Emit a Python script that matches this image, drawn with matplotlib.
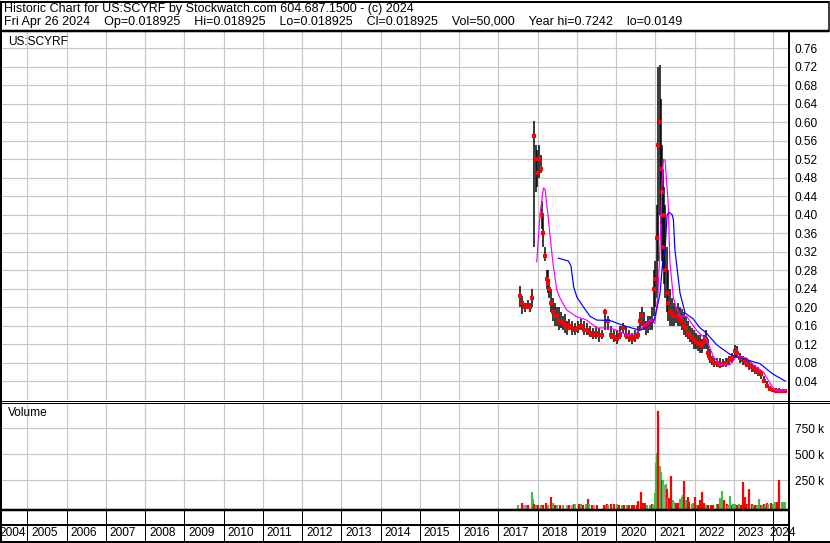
import matplotlib
matplotlib.use("Agg")
import matplotlib.pyplot as plt
from matplotlib.lines import Line2D

plt.rcParams['font.family'] = ['Liberation Sans', 'DejaVu Sans']

# ---------------- data ----------------
title_line1 = "Historic Chart for US:SCYRF by Stockwatch.com 604.687.1500 - (c) 2024"
title_line2 = ("Fri Apr 26 2024    Op=0.018925    Hi=0.018925    Lo=0.018925    "
               "Cl=0.018925    Vol=50,000    Year hi=0.7242    lo=0.0149")
symbol = "US:SCYRF"

year_labels = list(range(2004, 2025))
price_ticks = [0.04, 0.08, 0.12, 0.16, 0.20, 0.24, 0.28, 0.32, 0.36, 0.40,
               0.44, 0.48, 0.52, 0.56, 0.60, 0.64, 0.68, 0.72, 0.76]
volume_ticks = [250000, 500000, 750000]
volume_tick_labels = ["250 k", "500 k", "750 k"]

bar_dates = [2017.55, 2017.60, 2017.68, 2017.76, 2017.81, 2017.87,
             2017.91, 2017.95, 2017.99, 2018.04, 2018.08, 2018.11, 2018.15, 2018.19,
             2018.23, 2018.27, 2018.30, 2018.34, 2018.39, 2018.44, 2018.49, 2018.54,
             2018.59, 2018.65, 2018.70, 2018.75, 2018.80, 2018.88, 2018.95, 2019.03,
             2019.11, 2019.18, 2019.26, 2019.34, 2019.41, 2019.49, 2019.56, 2019.64,
             2019.72, 2019.79, 2019.87, 2019.95, 2020.02, 2020.10, 2020.18, 2020.25,
             2020.33, 2020.41, 2020.48, 2020.56, 2020.61, 2020.66, 2020.71, 2020.76,
             2020.81, 2020.86, 2020.91, 2020.97, 2021.00, 2021.04, 2021.08, 2021.12,
             2021.14, 2021.17, 2021.20, 2021.22, 2021.25, 2021.29, 2021.32, 2021.37,
             2021.42, 2021.47, 2021.53, 2021.58, 2021.63, 2021.68, 2021.73, 2021.78,
             2021.83, 2021.88, 2021.93, 2021.99, 2022.04, 2022.09, 2022.14, 2022.19,
             2022.24, 2022.29, 2022.34, 2022.39, 2022.44, 2022.49, 2022.57, 2022.65,
             2022.72, 2022.80, 2022.87, 2022.95, 2023.03, 2023.08, 2023.16, 2023.23,
             2023.31, 2023.39, 2023.46, 2023.54, 2023.61, 2023.69, 2023.77, 2023.84,
             2023.92, 2024.00, 2024.07, 2024.15, 2024.23, 2024.31]
bar_high = [0.245, 0.225, 0.21, 0.215, 0.21, 0.24,
            0.603, 0.55, 0.54, 0.55, 0.53, 0.43, 0.40, 0.33,
            0.28, 0.28, 0.26, 0.24, 0.22, 0.21, 0.20, 0.20,
            0.19, 0.18, 0.185, 0.17, 0.175, 0.17, 0.165, 0.17,
            0.175, 0.17, 0.165, 0.16, 0.155, 0.16, 0.155, 0.15,
            0.195, 0.18, 0.16, 0.15, 0.15, 0.16, 0.166, 0.16,
            0.15, 0.145, 0.15, 0.16, 0.19, 0.20, 0.19, 0.17,
            0.18, 0.18, 0.20, 0.28, 0.30, 0.42, 0.72, 0.724,
            0.65, 0.55, 0.50, 0.46, 0.42, 0.33, 0.28, 0.24,
            0.22, 0.21, 0.20, 0.21, 0.20, 0.195, 0.19, 0.18,
            0.17, 0.16, 0.155, 0.15, 0.145, 0.14, 0.14, 0.13,
            0.14, 0.15, 0.13, 0.11, 0.095, 0.09, 0.09, 0.09,
            0.088, 0.09, 0.095, 0.10, 0.118, 0.115, 0.10, 0.095,
            0.09, 0.085, 0.08, 0.075, 0.07, 0.065, 0.05, 0.04,
            0.03, 0.026, 0.024, 0.024, 0.022, 0.021]
bar_low = [0.20, 0.185, 0.19, 0.195, 0.19, 0.20,
           0.33, 0.45, 0.46, 0.48, 0.49, 0.37, 0.33, 0.30,
           0.24, 0.23, 0.22, 0.19, 0.17, 0.16, 0.16, 0.15,
           0.155, 0.15, 0.145, 0.14, 0.15, 0.14, 0.14, 0.145,
           0.15, 0.14, 0.14, 0.135, 0.13, 0.13, 0.125, 0.13,
           0.15, 0.15, 0.13, 0.125, 0.12, 0.13, 0.145, 0.13,
           0.125, 0.12, 0.125, 0.13, 0.15, 0.16, 0.15, 0.14,
           0.145, 0.15, 0.15, 0.18, 0.20, 0.22, 0.30, 0.40,
           0.38, 0.30, 0.28, 0.25, 0.22, 0.19, 0.17, 0.16,
           0.16, 0.16, 0.165, 0.16, 0.16, 0.15, 0.14, 0.135,
           0.13, 0.125, 0.12, 0.11, 0.11, 0.105, 0.10, 0.10,
           0.11, 0.11, 0.09, 0.08, 0.075, 0.07, 0.07, 0.068,
           0.07, 0.07, 0.075, 0.08, 0.09, 0.09, 0.08, 0.075,
           0.07, 0.065, 0.06, 0.055, 0.05, 0.045, 0.035, 0.025,
           0.018, 0.016, 0.016, 0.016, 0.016, 0.017]
bar_close = [0.225, 0.21, 0.20, 0.205, 0.20, 0.22,
             0.57, 0.52, 0.49, 0.52, 0.50, 0.40, 0.36, 0.31,
             0.26, 0.25, 0.24, 0.21, 0.19, 0.18, 0.18, 0.17,
             0.17, 0.165, 0.16, 0.155, 0.16, 0.155, 0.15, 0.155,
             0.16, 0.15, 0.15, 0.145, 0.14, 0.145, 0.14, 0.14,
             0.19, 0.17, 0.14, 0.135, 0.13, 0.14, 0.155, 0.14,
             0.135, 0.13, 0.135, 0.14, 0.17, 0.18, 0.16, 0.155,
             0.16, 0.165, 0.17, 0.24, 0.26, 0.35, 0.55, 0.60,
             0.50, 0.45, 0.40, 0.33, 0.28, 0.23, 0.21, 0.19,
             0.185, 0.18, 0.18, 0.18, 0.175, 0.17, 0.16, 0.155,
             0.145, 0.14, 0.135, 0.13, 0.125, 0.12, 0.12, 0.115,
             0.125, 0.13, 0.10, 0.09, 0.085, 0.08, 0.08, 0.075,
             0.078, 0.08, 0.085, 0.09, 0.105, 0.10, 0.09, 0.085,
             0.08, 0.075, 0.07, 0.065, 0.06, 0.055, 0.04, 0.03,
             0.022, 0.02, 0.019, 0.019, 0.019, 0.019]

ma_short_dates = [2017.98, 2018.06, 2018.15, 2018.19, 2018.27, 2018.36, 2018.40,
                  2018.49, 2018.57, 2018.74, 2019.00, 2019.25, 2019.51, 2019.85,
                  2020.10, 2020.27, 2020.53, 2020.69, 2020.86, 2020.99, 2021.07,
                  2021.12, 2021.17, 2021.21, 2021.25, 2021.29, 2021.33, 2021.37,
                  2021.46, 2021.53, 2021.63, 2021.80, 2022.05, 2022.31, 2022.48,
                  2022.65, 2022.90, 2023.07, 2023.33, 2023.50, 2023.75, 2023.92,
                  2024.05, 2024.33]
ma_short_vals = [0.298, 0.40, 0.458, 0.455, 0.396, 0.32, 0.29,
                 0.237, 0.22, 0.194, 0.179, 0.172, 0.155, 0.155,
                 0.147, 0.14, 0.144, 0.158, 0.172, 0.165, 0.23,
                 0.33, 0.47, 0.52, 0.518, 0.468, 0.425, 0.30,
                 0.22, 0.20, 0.18, 0.18, 0.15, 0.129, 0.093,
                 0.075, 0.075, 0.093, 0.09, 0.075, 0.06, 0.036,
                 0.02, 0.02]

ma_long_dates = [2018.53, 2018.78, 2018.85, 2018.92, 2019.00, 2019.17, 2019.34,
                 2019.51, 2019.85, 2020.10, 2020.27, 2020.61, 2020.82, 2020.97,
                 2021.05, 2021.12, 2021.19, 2021.25, 2021.30, 2021.35, 2021.43,
                 2021.46, 2021.50, 2021.63, 2021.76, 2021.96, 2022.14, 2022.29,
                 2022.57, 2022.90, 2023.24, 2023.66, 2024.00, 2024.31]
ma_long_vals = [0.306, 0.30, 0.29, 0.244, 0.222, 0.20, 0.18,
                0.172, 0.171, 0.163, 0.158, 0.15, 0.158, 0.172,
                0.20, 0.23, 0.30, 0.324, 0.40, 0.405, 0.40,
                0.39, 0.324, 0.23, 0.187, 0.175, 0.155, 0.145,
                0.118, 0.098, 0.088, 0.078, 0.055, 0.04]

vol_dates = [2017.51, 2017.60, 2017.65, 2017.71, 2017.76, 2017.85, 2017.89, 2017.92,
             2017.96, 2018.02, 2018.08, 2018.15, 2018.21, 2018.27, 2018.33, 2018.39,
             2018.44, 2018.50, 2018.57, 2018.66, 2018.74, 2018.81, 2018.87, 2018.93,
             2018.96, 2019.06, 2019.10, 2019.17, 2019.23, 2019.28, 2019.32, 2019.38,
             2019.45, 2019.51, 2019.69, 2019.74, 2019.78, 2019.80, 2019.86, 2019.95,
             2020.02, 2020.08, 2020.14, 2020.20, 2020.27, 2020.34, 2020.40, 2020.47,
             2020.53, 2020.56, 2020.64, 2020.68, 2020.73, 2020.78, 2020.86, 2020.91,
             2020.95, 2020.99, 2021.02, 2021.04, 2021.08, 2021.11, 2021.14, 2021.16,
             2021.19, 2021.22, 2021.27, 2021.29, 2021.33, 2021.36, 2021.40, 2021.44,
             2021.48, 2021.53, 2021.59, 2021.63, 2021.67, 2021.70, 2021.74, 2021.77,
             2021.83, 2021.87, 2021.93, 2021.97, 2022.01, 2022.05, 2022.10, 2022.14,
             2022.18, 2022.24, 2022.29, 2022.35, 2022.41, 2022.48, 2022.56, 2022.61,
             2022.65, 2022.71, 2022.76, 2022.82, 2022.86, 2022.90, 2022.95, 2022.99,
             2023.03, 2023.09, 2023.14, 2023.18, 2023.23, 2023.29, 2023.33, 2023.36,
             2023.39, 2023.46, 2023.50, 2023.54, 2023.58, 2023.65, 2023.69, 2023.72,
             2023.77, 2023.80, 2023.84, 2023.88, 2023.94, 2023.99, 2024.05, 2024.11,
             2024.16, 2024.22, 2024.26, 2024.31]
vol_values = [10000, 29000, 12000, 12000, 16000, 135000, 70000, 20000,
              15000, 12000, 10000, 12000, 30000, 12000, 87000, 30000,
              10000, 12000, 10000, 12000, 12000, 12000, 12000, 22000,
              25000, 18000, 25000, 12000, 18000, 70000, 18000, 10000,
              12000, 10000, 12000, 10000, 18000, 10000, 18000, 22000,
              25000, 8000, 12000, 8000, 16000, 8000, 10000, 12000,
              14000, 54000, 138000, 30000, 32000, 12000, 12000, 18000,
              10000, 125000, 420000, 510000, 917000, 388000, 330000, 253000,
              250000, 205000, 215000, 165000, 77000, 75000, 291000, 60000,
              40000, 30000, 35000, 72000, 93000, 110000, 243000, 60000,
              85000, 45000, 20000, 30000, 93000, 12000, 15000, 57000,
              135000, 30000, 15000, 12000, 15000, 12000, 25000, 20000,
              75000, 147000, 65000, 20000, 15000, 103000, 15000, 25000,
              20000, 15000, 18000, 15000, 237000, 88000, 25000, 15000,
              166000, 18000, 12000, 15000, 10000, 72000, 15000, 12000,
              20000, 12000, 30000, 18000, 35000, 20000, 40000, 45000,
              253000, 45000, 45000, 45000]
vol_dir = ['g', 'r', 'n', 'n', 'r', 'g', 'g', 'r',
           'g', 'r', 'g', 'r', 'r', 'g', 'r', 'g',
           'r', 'g', 'r', 'g', 'n', 'r', 'n', 'r',
           'g', 'r', 'g', 'r', 'g', 'r', 'g', 'r',
           'n', 'r', 'r', 'g', 'r', 'g', 'r', 'r',
           'g', 'r', 'g', 'r', 'g', 'r', 'r', 'r',
           'r', 'r', 'r', 'r', 'r', 'g', 'g', 'r',
           'g', 'g', 'g', 'g', 'r', 'g', 'g', 'r',
           'g', 'n', 'g', 'r', 'g', 'r', 'r', 'g',
           'n', 'r', 'r', 'g', 'g', 'g', 'r', 'g',
           'r', 'r', 'g', 'g', 'r', 'g', 'r', 'r',
           'r', 'r', 'g', 'r', 'r', 'r', 'g', 'r',
           'g', 'g', 'r', 'r', 'g', 'g', 'r', 'g',
           'g', 'r', 'g', 'r', 'r', 'r', 'r', 'g',
           'r', 'r', 'g', 'r', 'g', 'g', 'r', 'g',
           'r', 'g', 'r', 'g', 'r', 'g', 'g', 'r',
           'r', 'g', 'g', 'g']

# ---------------- styling ----------------
W, H = 830, 543
FONT = 8.6
GRID = '#c8c8c8'
COLORS = {'g': '#4cb84c', 'r': '#ff0000', 'n': '#a0a0a0'}
PX = 0.72  # one pixel in points

X_LEFT_PX, X_RIGHT_PX = 2, 788
PX_PER_YEAR = 39.25
JAN2005_PX = 27.3
XMIN = 2005 + (X_LEFT_PX - JAN2005_PX) / PX_PER_YEAR
XMAX = 2005 + (X_RIGHT_PX - JAN2005_PX) / PX_PER_YEAR

fig = plt.figure(figsize=(W / 100, H / 100), dpi=100)
fig.patch.set_facecolor('white')


def fx(px):
    return px / W


def fy(py):
    return 1 - py / H


def add_axes(top, bottom):
    a = fig.add_axes([fx(X_LEFT_PX), fy(bottom), fx(X_RIGHT_PX) - fx(X_LEFT_PX),
                      fy(top) - fy(bottom)])
    for s in a.spines.values():
        s.set_visible(False)
    a.set_xlim(XMIN, XMAX)
    a.set_axisbelow(True)
    return a


grid_years = year_labels[1:]

# price panel
ax = add_axes(32, 400)
ax.set_ylim(-0.001, 0.7955)
ax.set_xticks(grid_years)
ax.set_xticklabels([])
ax.set_yticks(price_ticks)
ax.set_yticklabels([f"{t:.2f}" for t in price_ticks])
ax.yaxis.tick_right()
ax.tick_params(axis='both', length=0, labelsize=FONT, pad=5)
ax.grid(True, color=GRID, lw=PX * 1.2)
ax.vlines(bar_dates, bar_low, bar_high, color='black', lw=PX * 1.5, zorder=3)
ax.plot(bar_dates, bar_close, 's', color='red', ms=2.7, mew=0, zorder=4)
ax.plot(ma_short_dates, ma_short_vals, color='#ff00ff', lw=PX * 1.2, zorder=5)
ax.plot(ma_long_dates, ma_long_vals, color='#0000ff', lw=PX * 1.2, zorder=5)

# volume panel
VOL_BASE = -26000
axv = add_axes(403, 509)
axv.set_ylim(VOL_BASE, 993000)
axv.set_xticks(grid_years)
axv.set_xticklabels([])
axv.set_yticks(volume_ticks)
axv.set_yticklabels(volume_tick_labels)
axv.yaxis.tick_right()
axv.tick_params(axis='both', length=0, labelsize=FONT, pad=5)
axv.grid(True, color=GRID, lw=PX * 1.2)
axv.vlines(vol_dates, VOL_BASE, vol_values, colors=[COLORS[d] for d in vol_dir],
           lw=PX * 2.2, zorder=3)

# date strip
axd = add_axes(509, 541)
axd.set_ylim(0, 1)
axd.set_xticks([])
axd.set_yticks([])
axd.vlines(grid_years, 0, 1, color='black', lw=PX)
axd.axhline(0.5, color='black', lw=PX * 2)
for yr in year_labels:
    if yr == 2004:
        xpos = XMIN - 0.06
    elif yr == 2024:
        xpos = yr - 0.1
    else:
        xpos = yr + 0.1
    axd.text(xpos, 0.25, str(yr), ha='left', va='center', fontsize=FONT, clip_on=False)


# frame lines (pixel coordinates)
def hline(y, x0, x1, w):
    fig.add_artist(Line2D([fx(x0), fx(x1)], [fy(y), fy(y)], color='black', lw=w * PX,
                          transform=fig.transFigure, solid_capstyle='butt'))


def vline(x, y0, y1, w):
    fig.add_artist(Line2D([fx(x), fx(x)], [fy(y0), fy(y1)], color='black', lw=w * PX,
                          transform=fig.transFigure, solid_capstyle='butt'))


hline(2, 0, 829, 2)
hline(31, 0, 829, 2.5)
vline(1, 1, 543, 2)
vline(828.5, 1, 32, 1.5)
vline(788.5, 30, 542, 2)
hline(400.5, 0, 830, 1)
hline(403, 0, 830, 1)
hline(509.5, 0, 789, 2.5)
hline(541.5, 0, 830, 2)

# texts
fig.text(fx(4), fy(9), title_line1, ha='left', va='center', fontsize=9)
fig.text(fx(4), fy(22), title_line2, ha='left', va='center', fontsize=9)
fig.text(fx(8), fy(42), symbol, ha='left', va='center', fontsize=FONT)
fig.text(fx(8), fy(413), "Volume", ha='left', va='center', fontsize=FONT)

fig.savefig("out.png", dpi=100, facecolor='white')
